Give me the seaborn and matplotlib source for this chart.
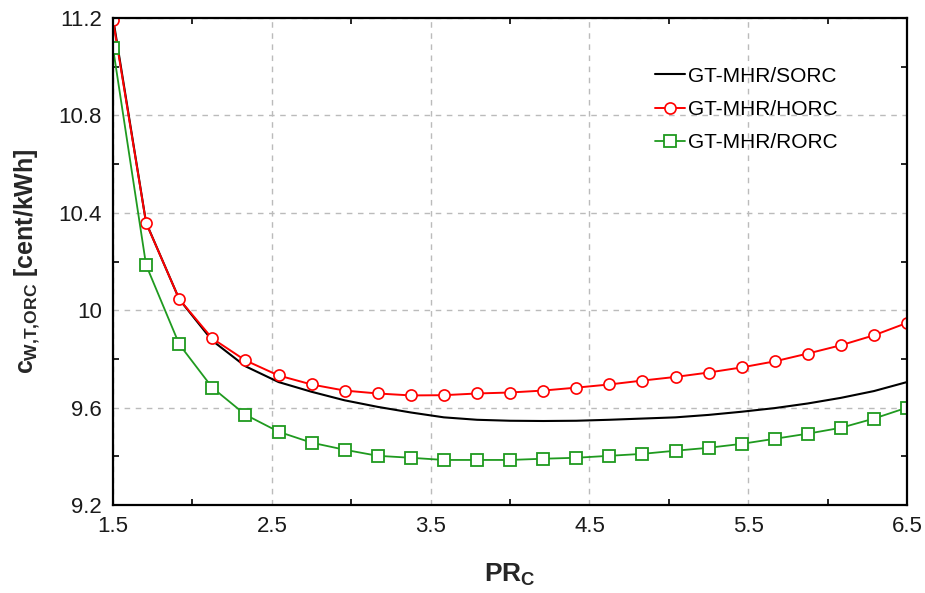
import matplotlib
matplotlib.use('Agg')
import matplotlib.pyplot as plt
import seaborn as sns

# compressor pressure ratio (marker positions)
pr_c = [1.5, 1.708, 1.917, 2.125, 2.333, 2.542, 2.75, 2.958, 3.167, 3.375,
        3.583, 3.792, 4.0, 4.208, 4.417, 4.625, 4.833, 5.042, 5.25, 5.458,
        5.667, 5.875, 6.083, 6.292, 6.5]

sorc = [11.20, 10.36, 10.045, 9.875, 9.770, 9.705, 9.665, 9.630, 9.603, 9.580,
        9.560, 9.550, 9.546, 9.545, 9.546, 9.550, 9.555, 9.560, 9.570, 9.583,
        9.598, 9.617, 9.640, 9.668, 9.705]

horc = [11.19, 10.359, 10.045, 9.884, 9.794, 9.732, 9.695, 9.670, 9.658, 9.650,
        9.651, 9.658, 9.662, 9.670, 9.682, 9.695, 9.711, 9.726, 9.744, 9.765,
        9.790, 9.822, 9.856, 9.897, 9.948]

rorc = [11.076, 10.186, 9.860, 9.682, 9.571, 9.501, 9.456, 9.427, 9.402, 9.394,
        9.385, 9.385, 9.385, 9.390, 9.394, 9.402, 9.410, 9.423, 9.435, 9.451,
        9.472, 9.493, 9.517, 9.555, 9.600]

labels = ['GT-MHR/SORC', 'GT-MHR/HORC', 'GT-MHR/RORC']
xticks = [1.5, 2.5, 3.5, 4.5, 5.5, 6.5]
yticks = [9.2, 9.6, 10.0, 10.4, 10.8, 11.2]
yticklabels = ['9.2', '9.6', '10', '10.4', '10.8', '11.2']

sns.set_style('white')
plt.rcParams['font.family'] = ['Liberation Sans', 'DejaVu Sans']
plt.rcParams['mathtext.fontset'] = 'custom'
plt.rcParams['mathtext.rm'] = 'Liberation Sans:bold'
plt.rcParams['mathtext.it'] = 'Liberation Sans:bold'
plt.rcParams['mathtext.bf'] = 'Liberation Sans:bold'

fig = plt.figure(figsize=(9.25, 5.93), dpi=100)
ax = fig.add_axes([0.1222, 0.1484, 0.8584, 0.8212])

sns.lineplot(x=pr_c, y=sorc, color='black', lw=1.5, label=labels[0], ax=ax)
sns.lineplot(x=pr_c, y=horc, color='#ff0000', lw=1.4, marker='o', ms=8,
             mfc='white', mec='#ff0000', mew=1.2, label=labels[1], ax=ax)
sns.lineplot(x=pr_c, y=rorc, color='#1f9a1f', lw=1.3, marker='s', ms=9,
             mfc='white', mec='#1f9a1f', mew=1.3, label=labels[2], ax=ax)

ax.set_xlim(1.5, 6.5)
ax.set_ylim(9.2, 11.2)
ax.set_xticks(xticks)
ax.set_xticklabels([str(v) for v in xticks])
ax.set_yticks(yticks)
ax.set_yticklabels(yticklabels)
ax.set_xticks([2, 3, 4, 5, 6], minor=True)
ax.set_yticks([9.4, 9.8, 10.2, 10.6, 11.0], minor=True)
ax.tick_params(which='major', length=0, labelsize=16, pad=8, colors='#1a1a1a')
ax.tick_params(which='minor', direction='in', length=4, width=1.2,
               top=True, right=True, bottom=True, left=True, color='black')

ax.grid(True, which='major', ls=(0, (4, 4)), color='#bbbbbb', lw=1)
for s in ax.spines.values():
    s.set_color('black')
    s.set_linewidth(1.6)

ax.set_xlabel(r'$PR_C$', fontsize=19, labelpad=18)
ax.set_ylabel(r'$c_{W{,}T{,}ORC}$ [cent/kWh]', fontsize=18, fontweight='bold', labelpad=12)

leg = ax.legend(loc='upper left', bbox_to_anchor=(0.683, 0.9), frameon=False,
                fontsize=15, handlelength=1.4, handletextpad=0.15, labelspacing=0.68,
                borderaxespad=0, borderpad=0)
for t in leg.get_texts():
    t.set_color('black')

fig.savefig('out.png', dpi=100)
